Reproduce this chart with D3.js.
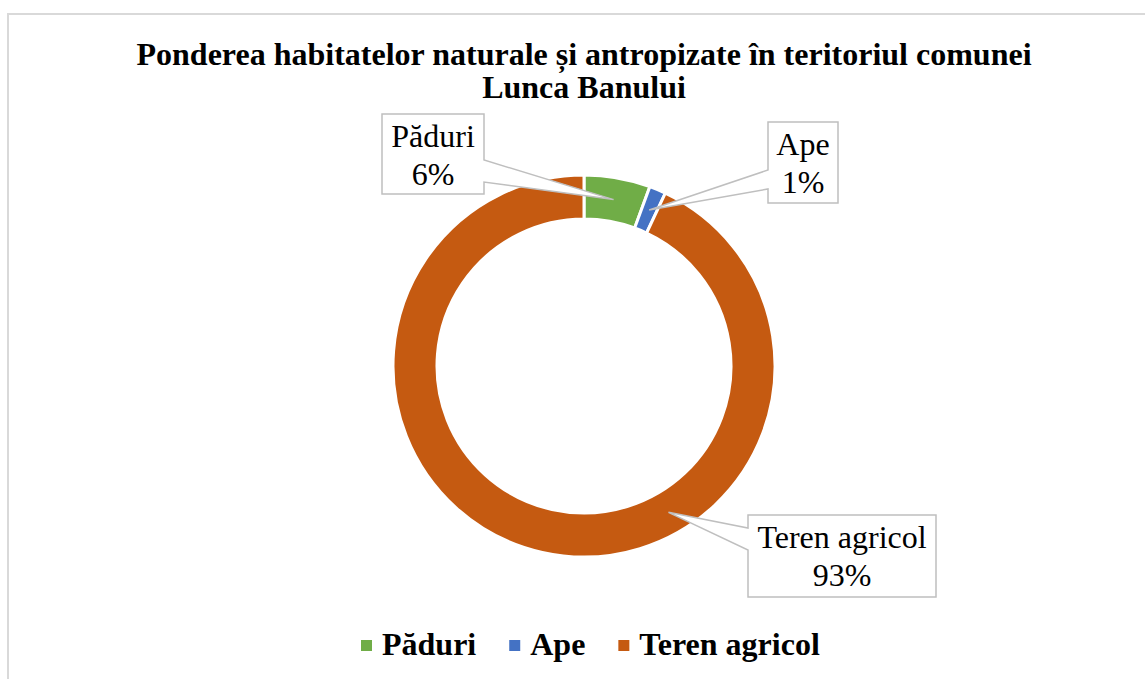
<!DOCTYPE html>
<html>
<head>
<meta charset="utf-8">
<script src="https://cdn.jsdelivr.net/npm/d3@7"></script>
<style>
  body { margin: 0; background: #fff; }
  svg { display: block; font-family: "Liberation Serif", "Times New Roman", serif; }
</style>
</head>
<body>
<svg id="chart"></svg>
<script>
// data
const categories = ["Păduri", "Ape", "Teren agricol"];
const shares = [5.6, 1.4, 93.0];
const colors = ["#70AD47", "#4472C4", "#C55A11"];
const titleLines = ["Ponderea habitatelor naturale și antropizate în teritoriul comunei", "Lunca Banului"];

const width = 1145, height = 679;
const cx = 584, cy = 366;
const outerR = 191, innerR = 147;

// callout layout: box, which side the pointer leaves from, and where along it
const callouts = [
  {x: 382, y: 114, w: 102, h: 80, side: "right", a: 46, b: 68, angle: null},
  {x: 768, y: 122, w: 70, h: 81, side: "left", a: 48, b: 67, angle: null},
  {x: 748, y: 515, w: 188, h: 82, side: "left", a: 13, b: 35, angle: 150}
];

const svg = d3.select("#chart")
  .attr("width", width)
  .attr("height", height);

// chart area border
svg.append("rect")
  .attr("x", 8).attr("y", 14)
  .attr("width", width + 20).attr("height", height + 20)
  .attr("fill", "none")
  .attr("stroke", "#d9d9d9")
  .attr("stroke-width", 2);

svg.append("text")
  .attr("text-anchor", "middle")
  .attr("font-weight", "bold")
  .attr("font-size", 32)
  .selectAll("tspan")
  .data(titleLines)
  .join("tspan")
  .attr("x", cx)
  .attr("y", (d, i) => 65 + i * 33)
  .text(d => d);

const pie = d3.pie().sort(null).value(d => d)(shares);
const arc = d3.arc().innerRadius(innerR).outerRadius(outerR);

const g = svg.append("g").attr("transform", `translate(${cx},${cy})`);
g.selectAll("path")
  .data(pie)
  .join("path")
  .attr("d", arc)
  .attr("fill", (d, i) => colors[i])
  .attr("stroke", "#fff")
  .attr("stroke-width", 3);

// pointer tip for each label
const midR = (innerR + outerR) / 2;
function tipOf(d, i) {
  const c = callouts[i];
  let ang = c.angle == null ? (d.startAngle + d.endAngle) / 2 : c.angle * Math.PI / 180;
  return [cx + midR * Math.sin(ang), cy - midR * Math.cos(ang)];
}

function calloutPath(c, tip) {
  const l = c.x, t = c.y, r = c.x + c.w, b = c.y + c.h;
  if (c.side === "right") {
    return `M${l},${t}H${r}V${t + c.a}L${tip[0]},${tip[1]}L${r},${t + c.b}V${b}H${l}Z`;
  }
  return `M${l},${t}H${r}V${b}H${l}V${t + c.b}L${tip[0]},${tip[1]}L${l},${t + c.a}Z`;
}

const labels = svg.append("g")
  .selectAll("g")
  .data(pie)
  .join("g");

labels.append("path")
  .attr("d", (d, i) => calloutPath(callouts[i], tipOf(d, i)))
  .attr("fill", "#fff")
  .attr("stroke", "#bfbfbf")
  .attr("stroke-width", 1.5);

labels.append("text")
  .attr("text-anchor", "middle")
  .attr("font-size", 32)
  .attr("fill", "#000")
  .each(function(d, i) {
    const c = callouts[i];
    const t = d3.select(this);
    t.append("tspan").attr("x", c.x + c.w / 2).attr("y", c.y + 33).text(categories[i]);
    t.append("tspan").attr("x", c.x + c.w / 2).attr("y", c.y + 71).text(d3.format(".0f")(d.value) + "%");
  });

// legend
const legend = svg.append("g").attr("font-size", 32).attr("font-weight", "bold");
let lx = 361;
categories.forEach((name, i) => {
  legend.append("rect")
    .attr("x", lx).attr("y", 640)
    .attr("width", 11).attr("height", 11)
    .attr("fill", colors[i]);
  const txt = legend.append("text")
    .attr("x", lx + 21).attr("y", 655)
    .text(name);
  lx += 21 + txt.node().getComputedTextLength() + 33;
});
</script>
</body>
</html>
